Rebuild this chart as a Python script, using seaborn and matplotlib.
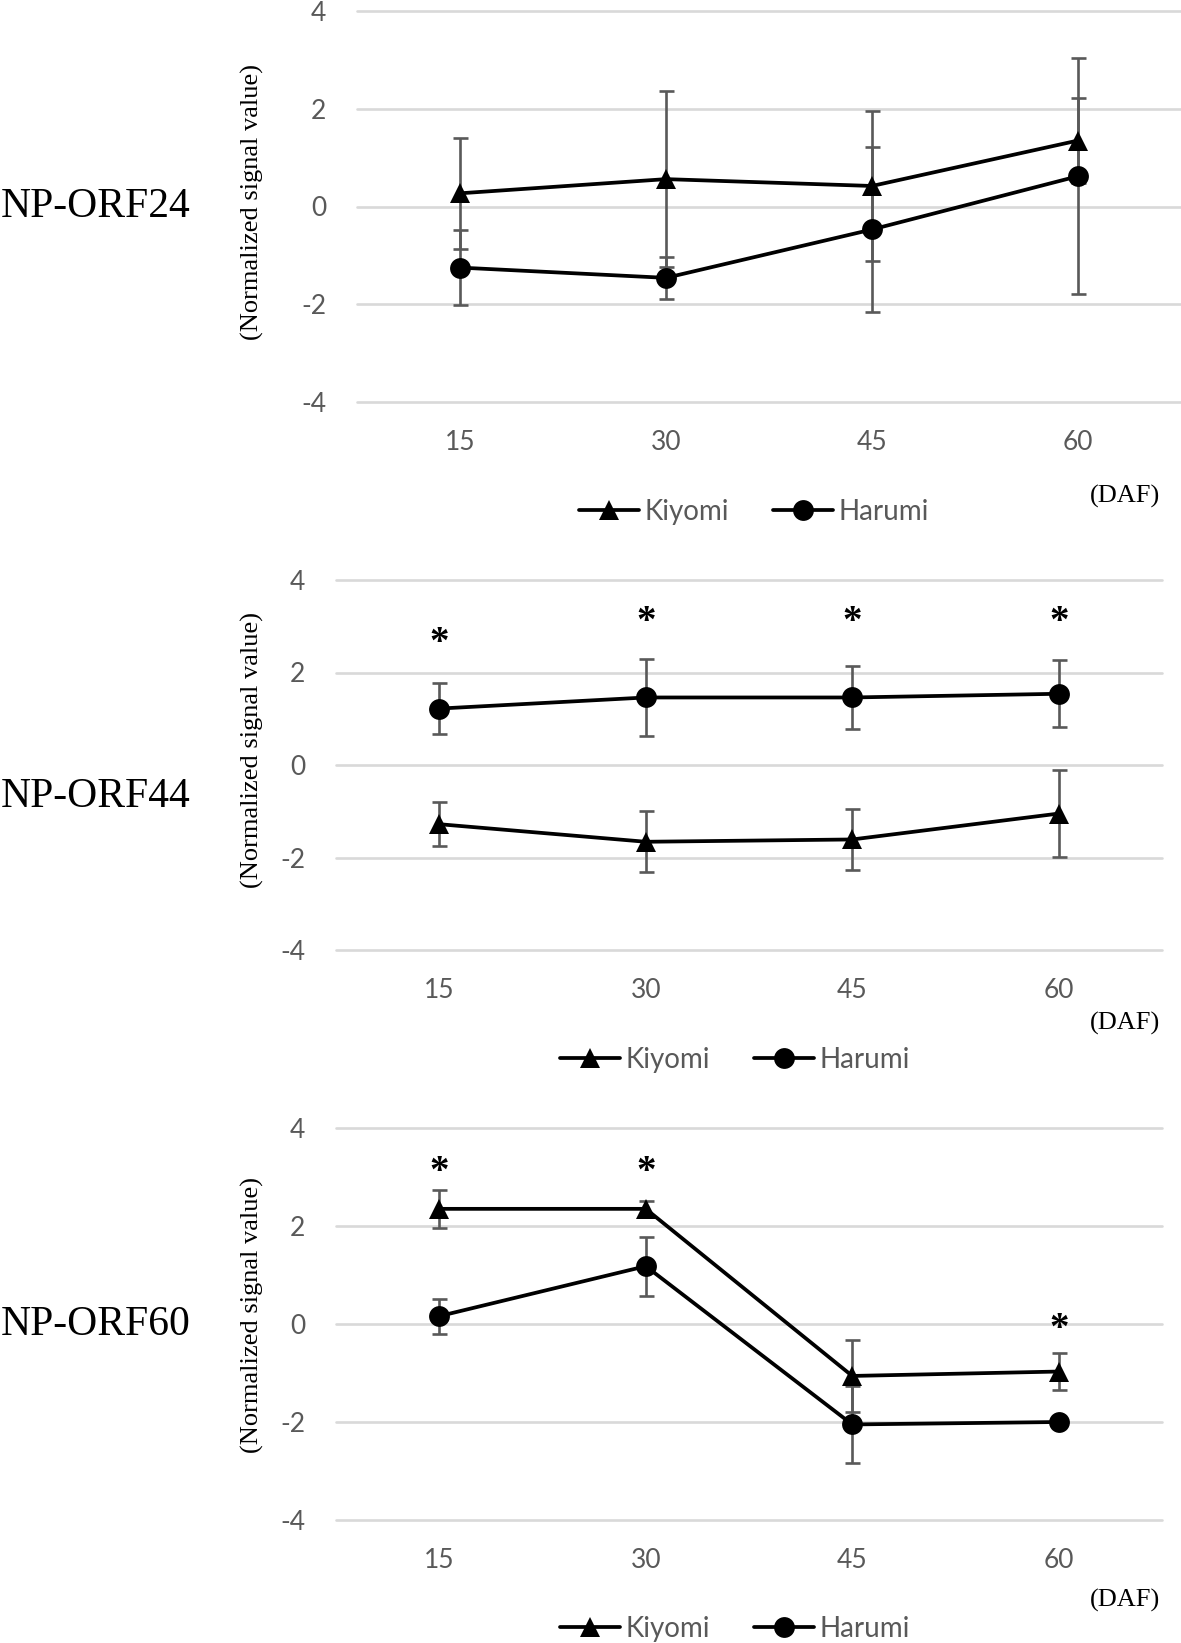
import numpy as np
import pandas as pd
import matplotlib
matplotlib.use("Agg")
import matplotlib.pyplot as plt
import seaborn as sns
from matplotlib.lines import Line2D

# ---------------- data ----------------
days = [15, 30, 45, 60]
cultivars = ["Kiyomi", "Harumi"]
genes = ["NP-ORF24", "NP-ORF44", "NP-ORF60"]
yticks = [-4, -2, 0, 2, 4]

orf24_kiyomi_mean = [0.27, 0.56, 0.42, 1.35]
orf24_kiyomi_sd = [1.13, 1.80, 1.53, 0.87]
orf24_harumi_mean = [-1.25, -1.46, -0.47, 0.62]
orf24_harumi_sd = [0.77, 0.43, 1.68, 2.41]

orf44_kiyomi_mean = [-1.28, -1.66, -1.61, -1.05]
orf44_kiyomi_sd = [0.48, 0.66, 0.65, 0.94]
orf44_harumi_mean = [1.22, 1.46, 1.46, 1.54]
orf44_harumi_sd = [0.56, 0.84, 0.69, 0.72]

orf60_kiyomi_mean = [2.35, 2.35, -1.06, -0.97]
orf60_kiyomi_sd = [0.39, 0.17, 0.73, 0.38]
orf60_harumi_mean = [0.16, 1.18, -2.05, -2.00]
orf60_harumi_sd = [0.36, 0.60, 0.78, 0.05]

sig24_x = []
sig24_y = []
sig44_x = [15, 30, 45, 60]
sig44_y = [2.84, 3.29, 3.29, 3.29]
sig60_x = [15, 30, 60]
sig60_y = [3.29, 3.29, 0.09]

# ---------------- style ----------------
sns.set_theme(style="white")
plt.rcParams["font.family"] = ["Lato", "DejaVu Sans"]
plt.rcParams["axes.unicode_minus"] = False

W, H = 1181, 1643
fig = plt.figure(figsize=(W / 100, H / 100), dpi=100)

SERIF = ["Liberation Serif", "DejaVu Serif"]
GRAY = "#595959"
MS = 15
LW = 2.7

panels = [
    dict(gene=genes[0],
         k=(orf24_kiyomi_mean, orf24_kiyomi_sd), h=(orf24_harumi_mean, orf24_harumi_sd),
         sig=(sig24_x, sig24_y),
         rect=(357, 11, 1181, 402), gene_y=207, ylab_y=202, daf_y=496, leg=(754, 512)),
    dict(gene=genes[1],
         k=(orf44_kiyomi_mean, orf44_kiyomi_sd), h=(orf44_harumi_mean, orf44_harumi_sd),
         sig=(sig44_x, sig44_y),
         rect=(336, 580, 1162, 950), gene_y=797, ylab_y=750, daf_y=1023, leg=(735, 1060)),
    dict(gene=genes[2],
         k=(orf60_kiyomi_mean, orf60_kiyomi_sd), h=(orf60_harumi_mean, orf60_harumi_sd),
         sig=(sig60_x, sig60_y),
         rect=(336, 1128, 1162, 1520), gene_y=1325, ylab_y=1315, daf_y=1600, leg=(735, 1629)),
]

markers = {"Kiyomi": "^", "Harumi": "o"}

for p in panels:
    x0, y0, x1, y1 = p["rect"]
    ax = fig.add_axes([x0 / W, 1 - y1 / H, (x1 - x0) / W, (y1 - y0) / H])

    rows = []
    for name, (m, s) in (("Kiyomi", p["k"]), ("Harumi", p["h"])):
        for d, mv, sv in zip(days, m, s):
            rows.append(dict(DAF=d, value=mv, sd=sv, cultivar=name))
    df = pd.DataFrame(rows)

    # error bars
    for name in cultivars:
        sub = df[df.cultivar == name]
        ax.errorbar(sub.DAF, sub.value, yerr=sub.sd, fmt="none", ecolor=GRAY,
                    elinewidth=1.9, capsize=5.4, capthick=1.9, zorder=2)

    sns.lineplot(data=df, x="DAF", y="value", hue="cultivar", style="cultivar",
                 hue_order=cultivars, style_order=cultivars,
                 palette={"Kiyomi": "black", "Harumi": "black"},
                 markers=markers, dashes=False, markersize=MS, linewidth=LW,
                 markeredgecolor="black", markeredgewidth=0, legend=False, ax=ax, zorder=3)

    for sx, sy in zip(*p["sig"]):
        ax.annotate("*", xy=(sx, sy), xytext=(0, -7), textcoords="offset points",
                    ha="center", va="center", fontsize=28, fontweight="bold",
                    family=SERIF, color="black", zorder=4)

    ax.set_xlim(7.5, 67.5)
    ax.set_ylim(-4, 4)
    ax.set_xticks(days)
    ax.set_xticklabels([str(d) for d in days])
    ax.set_yticks(yticks)
    ax.set_yticklabels([str(t) for t in yticks])
    ax.set_xlabel("")
    ax.set_ylabel("")
    for sp in ax.spines.values():
        sp.set_visible(False)
    ax.grid(axis="y", color="#d9d9d9", linewidth=1.9)
    ax.grid(axis="x", visible=False)
    for gl in ax.get_ygridlines():
        gl.set_clip_on(False)
    ax.set_axisbelow(True)
    ax.tick_params(axis="y", length=0, pad=22, labelsize=19, labelcolor=GRAY)
    ax.tick_params(axis="x", length=0, pad=20, labelsize=19, labelcolor=GRAY)

    fig.text(1 / W, 1 - p["gene_y"] / H, p["gene"], ha="left", va="center",
             fontsize=30, family=SERIF, color="black")
    fig.text(252 / W, 1 - p["ylab_y"] / H, "(Normalized signal value)", rotation=90,
             ha="center", va="center", fontsize=19, family=SERIF, color="black")
    fig.text(1160 / W, 1 - p["daf_y"] / H, "(DAF)", ha="right", va="center",
             fontsize=19, family=SERIF, color="black")

    handles = [Line2D([0], [0], color="black", lw=LW, marker=markers[c],
                      markersize=MS, markerfacecolor="black", markeredgewidth=0)
               for c in cultivars]
    lx, ly = p["leg"]
    fig.legend(handles, cultivars, loc="center", bbox_to_anchor=(lx / W, 1 - ly / H),
               ncol=2, frameon=False, fontsize=20, handlelength=2.15,
               handletextpad=0.2, columnspacing=1.6, labelcolor=GRAY,
               borderpad=0.2)

fig.savefig("out.png", dpi=100)
